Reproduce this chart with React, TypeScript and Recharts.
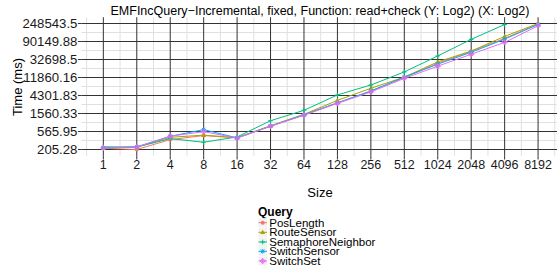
import React from "react";
import { LineChart, Line, XAxis, YAxis, CartesianGrid, Legend } from "recharts";

const sizes = [1, 2, 4, 8, 16, 32, 64, 128, 256, 512, 1024, 2048, 4096, 8192];
const posLength = [220, 205.28, 359, 449, 395, 763, 1452, 2839, 5553, 11812, 26560, 51970, 107400, 241700];
const routeSensor = [223, 232, 408, 461, 401, 785, 1493, 3266, 6460, 12140, 28570, 52530, 120200, 248543.5];
const semaphoreNeighbor: (number | null)[] = [239, 236, 379, 309, 417, 1038, 1868, 4441, 7767, 16220, 39950, 101600, 235000, null];
const switchSensor = [223, 239, 432, 629, 395, 763, 1452, 2839, 5553, 12140, 25110, 49130, 102800, 235000];
const switchSet = [223, 236, 432, 562, 390, 763, 1411, 2761, 5251, 11290, 22460, 43940, 85940, 218500];

const yTickLabels = ["205.28", "565.95", "1560.33", "4301.83", "11860.16", "32698.5", "90149.88", "248543.5"];
const xTickLabels = sizes.map(String);

const seriesNames = ["PosLength", "RouteSensor", "SemaphoreNeighbor", "SwitchSensor", "SwitchSet"];
const seriesValues = [posLength, routeSensor, semaphoreNeighbor, switchSensor, switchSet];
const colors = ["#F8766D", "#A3A500", "#00BF7D", "#00B0F6", "#E76BF3"];
const shapes = ["circle", "triangle", "plus", "star", "diamond"];

const log2 = (v: number) => Math.log(v) / Math.LN2;

const data = sizes.map((s, i) => {
  const row: Record<string, number | null> = { lx: log2(s) };
  seriesNames.forEach((n, k) => {
    const v = seriesValues[k][i];
    row[n] = v == null ? null : log2(v);
  });
  return row;
});

const yTickVals = yTickLabels.map((t) => log2(parseFloat(t)));
const yMinorVals = yTickVals.slice(1).map((v, i) => (v + yTickVals[i]) / 2);
const ySpan = yTickVals[yTickVals.length - 1] - yTickVals[0];
const yDomain = [yTickVals[0] - 0.05 * ySpan, yTickVals[yTickVals.length - 1] + 0.05 * ySpan];
const xTickVals = sizes.map((s) => log2(s));
const xMinorVals = [-0.5, ...xTickVals.map((v) => v + 0.5)];
const xDomain = [-0.65, 13.566];

function Marker({ shape, color, cx, cy }: { shape: string; color: string; cx: number; cy: number }) {
  const s = 2.3;
  switch (shape) {
    case "circle":
      return <circle cx={cx} cy={cy} r={2} fill={color} />;
    case "triangle":
      return <polygon points={`${cx},${cy - 2.6} ${cx - 2.5},${cy + 1.8} ${cx + 2.5},${cy + 1.8}`} fill={color} />;
    case "plus":
      return (
        <g stroke={color} strokeWidth={1}>
          <line x1={cx - s} y1={cy} x2={cx + s} y2={cy} />
          <line x1={cx} y1={cy - s} x2={cx} y2={cy + s} />
        </g>
      );
    case "star":
      return (
        <g stroke={color} strokeWidth={1}>
          <line x1={cx - s} y1={cy} x2={cx + s} y2={cy} />
          <line x1={cx} y1={cy - s} x2={cx} y2={cy + s} />
          <line x1={cx - 1.7} y1={cy - 1.7} x2={cx + 1.7} y2={cy + 1.7} />
          <line x1={cx - 1.7} y1={cy + 1.7} x2={cx + 1.7} y2={cy - 1.7} />
        </g>
      );
    default:
      return (
        <g stroke={color} strokeWidth={1} fill="none">
          <polygon points={`${cx},${cy - 2.6} ${cx + 2.6},${cy} ${cx},${cy + 2.6} ${cx - 2.6},${cy}`} />
          <line x1={cx - 2.6} y1={cy} x2={cx + 2.6} y2={cy} />
          <line x1={cx} y1={cy - 2.6} x2={cx} y2={cy + 2.6} />
        </g>
      );
  }
}

const font = "'Liberation Sans', Arial, Helvetica, sans-serif";

function Overlay() {
  const rowY = [222.7, 232.3, 242, 251.3, 261];
  return (
    <svg width={557} height={271} style={{ position: "absolute", left: 0, top: 0 }}>
      <text x={320} y={15} textAnchor="middle" fontSize={12.5} fontFamily={font} fill="#000">
        EMFIncQuery−Incremental, fixed, Function: read+check (Y: Log2) (X: Log2)
      </text>
      <text x={320} y={197} textAnchor="middle" fontSize={13} fontFamily={font} fill="#000">
        Size
      </text>
      <text
        transform="translate(21.5,87) rotate(-90)"
        x={0}
        y={0}
        textAnchor="middle"
        fontSize={13}
        fontFamily={font}
        fill="#000"
      >
        Time (ms)
      </text>
      <text x={258} y={216} fontSize={12} fontWeight="bold" fontFamily={font} fill="#000">
        Query
      </text>
      {seriesNames.map((n, i) => (
        <g key={n}>
          <rect x={258.5} y={rowY[i] - 4.6} width={8.5} height={9.2} fill="#f2f2f2" />
          <line x1={258.5} y1={rowY[i]} x2={267} y2={rowY[i]} stroke={colors[i]} strokeWidth={1} />
          <Marker shape={shapes[i]} color={colors[i]} cx={262.7} cy={rowY[i]} />
          <text x={269.3} y={rowY[i] + 4} fontSize={11.5} fontFamily={font} fill="#000">
            {n}
          </text>
        </g>
      ))}
    </svg>
  );
}

export default function App() {
  return (
    <div style={{ position: "absolute", left: 0, top: 0, width: 557, height: 271, overflow: "hidden", background: "#fff" }}>
      <LineChart width={557} height={271} data={data} margin={{ top: 17.2, right: 0, bottom: 95.2, left: 0 }}>
        <CartesianGrid horizontalValues={yMinorVals} verticalValues={xMinorVals} stroke="#e0e0e0" strokeWidth={1} />
        <CartesianGrid horizontalValues={yTickVals} verticalValues={xTickVals} stroke="#333333" strokeWidth={1} />
        <XAxis
          type="number"
          dataKey="lx"
          domain={xDomain}
          allowDataOverflow
          ticks={xTickVals}
          interval={0}
          tickFormatter={(v: number, i: number) => xTickLabels[i]}
          tick={{ fontSize: 12.5, fontFamily: font, fill: "#1a1a1a" }}
          tickSize={3.7}
          tickMargin={1}
          tickLine={{ stroke: "#333333" }}
          axisLine={false}
          height={20}
        />
        <YAxis
          type="number"
          domain={yDomain}
          allowDataOverflow
          ticks={yTickVals}
          interval={0}
          tickFormatter={(v: number, i: number) => yTickLabels[i]}
          tick={{ fontSize: 13.2, fontFamily: font, fill: "#1a1a1a" }}
          tickSize={3.7}
          tickMargin={0.5}
          tickLine={{ stroke: "#333333" }}
          axisLine={false}
          width={81.6}
        />
        {seriesNames.map((n, k) => (
          <Line
            key={n}
            dataKey={n}
            stroke={colors[k]}
            strokeWidth={1}
            isAnimationActive={false}
            dot={(p: any) =>
              p.cx == null || p.cy == null || p.value == null ? (
                <g key={`e${k}-${p.index}`} />
              ) : (
                <g key={`d${k}-${p.index}`}>
                  <Marker shape={shapes[k]} color={colors[k]} cx={p.cx} cy={p.cy} />
                </g>
              )
            }
            activeDot={false}
          />
        ))}
        <Legend
          layout="horizontal"
          verticalAlign="middle"
          align="center"
          content={() => <Overlay />}
          wrapperStyle={{ left: 0, top: 0, width: 557, height: 271, pointerEvents: "none" }}
        />
      </LineChart>
    </div>
  );
}
